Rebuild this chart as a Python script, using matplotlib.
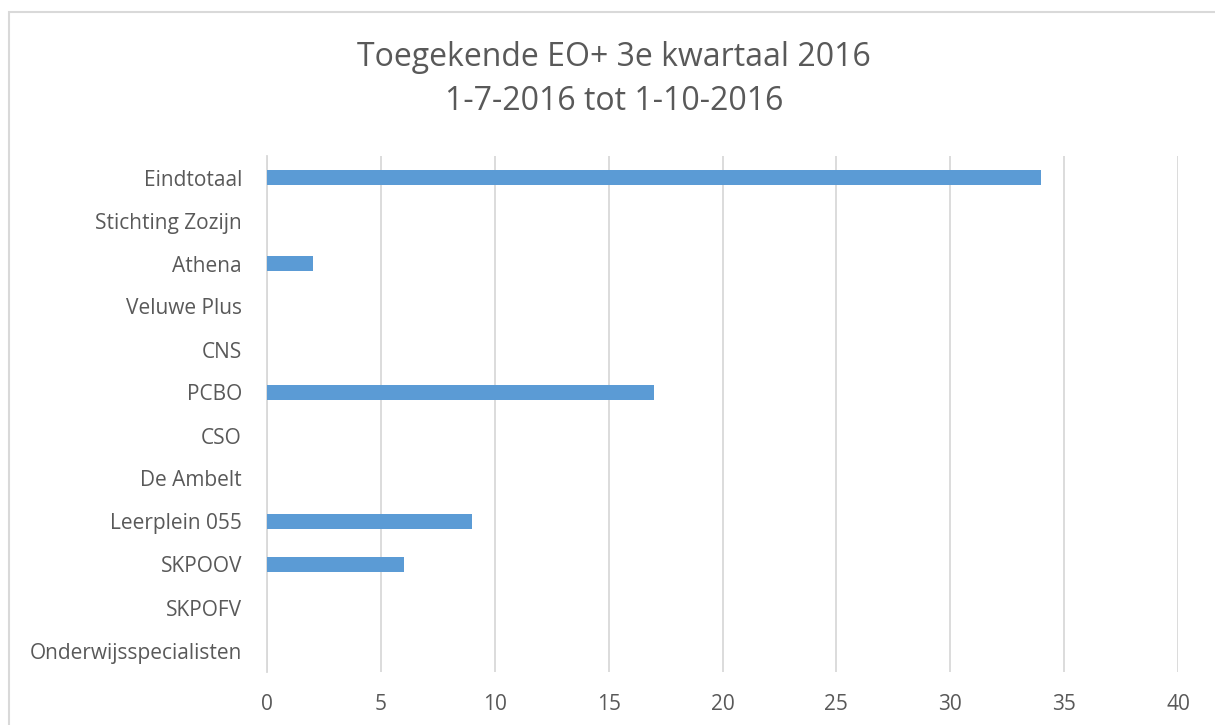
import matplotlib
matplotlib.use("Agg")
import matplotlib.pyplot as plt
from matplotlib.patches import Rectangle

categories = ["Onderwijsspecialisten", "SKPOFV", "SKPOOV", "Leerplein 055", "De Ambelt",
              "CSO", "PCBO", "CNS", "Veluwe Plus", "Athena", "Stichting Zozijn", "Eindtotaal"]
values = [0, 0, 6, 9, 0, 0, 17, 0, 0, 2, 0, 34]
xticks = [0, 5, 10, 15, 20, 25, 30, 35, 40]
title_lines = ["Toegekende EO+ 3e kwartaal 2016", "1-7-2016 tot 1-10-2016"]

plt.rcParams['font.family'] = ['Open Sans', 'DejaVu Sans']
txt = '#595959'
W, H = 1215, 725
fig = plt.figure(figsize=(W / 100, H / 100), dpi=100)
fig.patches.append(Rectangle((9 / W, -0.1), 1.2, (H - 12) / H + 0.1, transform=fig.transFigure,
                             fill=False, edgecolor='#d9d9d9', linewidth=1.5))
ax = fig.add_axes([267 / W, (H - 672) / H, (1178 - 267) / W, (672 - 156) / H])
y = list(range(len(categories)))
ax.barh(y, values, height=0.35, color='#5b9bd5', zorder=3)
ax.set_xlim(0, 40)
ax.set_ylim(-0.5, len(categories) - 0.5)
ax.set_xticks(xticks)
ax.set_xticklabels([str(t) for t in xticks])
ax.set_yticks(y)
ax.set_yticklabels(categories)
ax.grid(axis='x', color='#d9d9d9', linewidth=1.3, zorder=0)
for s in ['top', 'right', 'bottom']:
    ax.spines[s].set_visible(False)
ax.spines['left'].set_color('#d9d9d9')
ax.spines['left'].set_linewidth(1.3)
ax.tick_params(axis='both', length=0, labelsize=15, labelcolor=txt)
ax.tick_params(axis='x', pad=16)
ax.tick_params(axis='y', pad=18)
fig.text(614 / W, 1 - 57 / H, title_lines[0], ha='center', va='center', fontsize=23, color=txt)
fig.text(614 / W, 1 - 101 / H, title_lines[1], ha='center', va='center', fontsize=23, color=txt)
fig.savefig("out.png", dpi=100)
